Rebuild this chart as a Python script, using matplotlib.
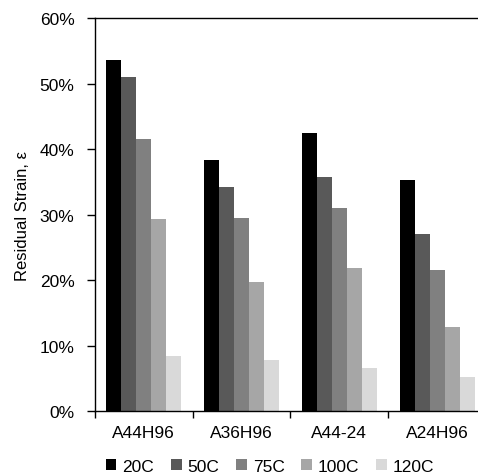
import numpy as np
import matplotlib
matplotlib.use("Agg")
import matplotlib.pyplot as plt
from matplotlib.ticker import FuncFormatter

plt.rcParams['font.family'] = ['Liberation Sans', 'DejaVu Sans']

# data (residual strain, %)
categories = ['A44H96', 'A36H96', 'A44-24', 'A24H96']
temps = ['20C', '50C', '75C', '100C', '120C']
strain_20c = [53.7, 38.3, 42.5, 35.3]
strain_50c = [51.1, 34.3, 35.8, 27.0]
strain_75c = [41.5, 29.5, 31.1, 21.5]
strain_100c = [29.4, 19.7, 21.9, 12.8]
strain_120c = [8.5, 7.9, 6.6, 5.3]

series = [strain_20c, strain_50c, strain_75c, strain_100c, strain_120c]
colors = ['#000000', '#595959', '#808080', '#a6a6a6', '#d9d9d9']

fig = plt.figure(figsize=(4.78, 4.77), dpi=100)
ax = fig.add_axes([0.198, 0.1356, 0.819, 0.824])

x = np.arange(len(categories))
width = 0.153
offsets = (np.arange(len(series)) - 2) * width
for vals, off, col, lab in zip(series, offsets, colors, temps):
    ax.bar(x + off, vals, width, color=col, label=lab, linewidth=0)

ax.set_xlim(-0.5, 3.5)
ax.set_ylim(0, 60)
ax.set_yticks(np.arange(0, 61, 10))
ax.yaxis.set_major_formatter(FuncFormatter(lambda v, p: f'{v:.0f}%'))

# category boundaries as tick marks, labels in between
ax.set_xticks(np.arange(-0.5, 4, 1.0))
ax.set_xticklabels([])
ax.set_xticks(x, minor=True)
ax.set_xticklabels(categories, minor=True)
ax.tick_params(axis='x', which='minor', length=0, pad=10, labelsize=12.5)
ax.tick_params(axis='x', which='major', length=5, width=1.0, direction='out')
ax.tick_params(axis='y', length=5.5, width=1.0, direction='out', labelsize=12.5, pad=9)

for side in ['left', 'bottom', 'top']:
    ax.spines[side].set_linewidth(1.0)
ax.spines['right'].set_visible(False)

ax.set_ylabel('Residual Strain, ε', fontsize=12, labelpad=7)

fig.legend(loc='center', bbox_to_anchor=(0.565, 0.02), ncol=5, frameon=False,
           fontsize=12.5, handlelength=0.62, handleheight=0.62, handletextpad=0.35,
           columnspacing=0.95)

fig.savefig('out.png', dpi=100, facecolor='white')
